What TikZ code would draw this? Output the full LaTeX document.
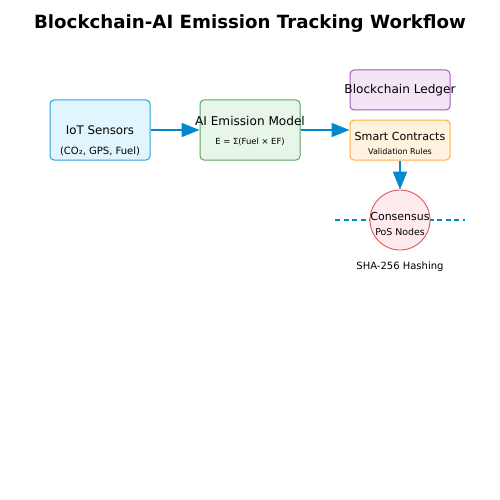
\documentclass[tikz,border=0pt]{standalone}
\usepackage{fontspec}
\setmainfont{DejaVu Sans}
\usetikzlibrary{arrows.meta}

\definecolor{iotfill}{HTML}{E1F5FE}
\definecolor{iotdraw}{HTML}{29A3E0}
\definecolor{aifill}{HTML}{E8F5E9}
\definecolor{aidraw}{HTML}{5AA55E}
\definecolor{ledgerfill}{HTML}{F3E5F5}
\definecolor{ledgerdraw}{HTML}{A958BE}
\definecolor{scfill}{HTML}{FFF3E0}
\definecolor{scdraw}{HTML}{FFAD45}
\definecolor{consfill}{HTML}{FFEBEE}
\definecolor{consdraw}{HTML}{DD4848}
\definecolor{flowblue}{HTML}{0288D1}

\tikzset{
  stagebox/.style={draw, line width=1pt, rounded corners=4pt, inner sep=0pt},
  bigtext/.style={inner sep=0pt, font=\fontsize{12.1}{14}\selectfont},
  smalltext/.style={inner sep=0pt, font=\fontsize{9.4}{11}\selectfont},
  flow/.style={flowblue, line width=1.8pt, -{Triangle[length=18pt,width=14pt]}}
}

\begin{document}
\begin{tikzpicture}[x=1pt,y=1pt,yscale=-1]
\useasboundingbox (0,0) rectangle (500,500);
% Title
\node (title) at (250,23.5) [inner sep=0pt, font=\bfseries\fontsize{18.2}{21}\selectfont] {Blockchain-AI Emission Tracking Workflow};
% Boxes
\node (iot) at (100,130) [stagebox, draw=iotdraw, fill=iotfill, minimum width=100pt, minimum height=60pt] {};
\node (model) at (250,130) [stagebox, draw=aidraw, fill=aifill, minimum width=100pt, minimum height=60pt] {};
\node (ledger) at (400,90) [stagebox, draw=ledgerdraw, fill=ledgerfill, minimum width=100pt, minimum height=40pt] {};
\node (contract) at (400,140) [stagebox, draw=scdraw, fill=scfill, minimum width=100pt, minimum height=40pt] {};
% Dashed link line
\coordinate (linkl) at (335,220);
\coordinate (linkr) at (465,220);
\draw [flowblue, line width=1.6pt, dash pattern={on 5pt off 3.5pt}] (linkl) -- (linkr);
\node (consensus) at (400,220) [circle, draw=consdraw, fill=consfill, line width=0.8pt, minimum size=60pt, inner sep=0pt] {};
% Text Node
\node (iotlabel) at (100,130.5) [bigtext, font=\fontsize{11.8}{14}\selectfont] {IoT Sensors};
\node (iotsub) at (100,151.5) [smalltext, font=\fontsize{10}{11}\selectfont] {(CO₂, GPS, Fuel)};
\node (modellabel) at (250,120.5) [bigtext] {AI Emission Model};
\node (modelsub) at (250,142) [smalltext, font=\fontsize{8.4}{10}\selectfont] {E = Σ(Fuel × EF)};
\node (ledgerlabel) at (400,90.5) [bigtext] {Blockchain Ledger};
\node (contractlabel) at (400,136) [bigtext, font=\fontsize{11.1}{13}\selectfont] {Smart Contracts};
\node (contractsub) at (400,152) [smalltext, font=\fontsize{8}{10}\selectfont] {Validation Rules};
\node (conslabel) at (400,216) [bigtext, font=\fontsize{11}{13}\selectfont] {Consensus};
\node (conssub) at (400,231.5) [smalltext] {PoS Nodes};
\node (hashlabel) at (400,266.5) [smalltext, font=\fontsize{10}{11}\selectfont] {SHA-256 Hashing};
% Arrows
\draw [flow] (iot.east) -- (model.west);
\draw [flow] (model.east) -- (model.east -| contract.west);
\draw [flow] (contract.south) -- (consensus.north);
\end{tikzpicture}
\end{document}
